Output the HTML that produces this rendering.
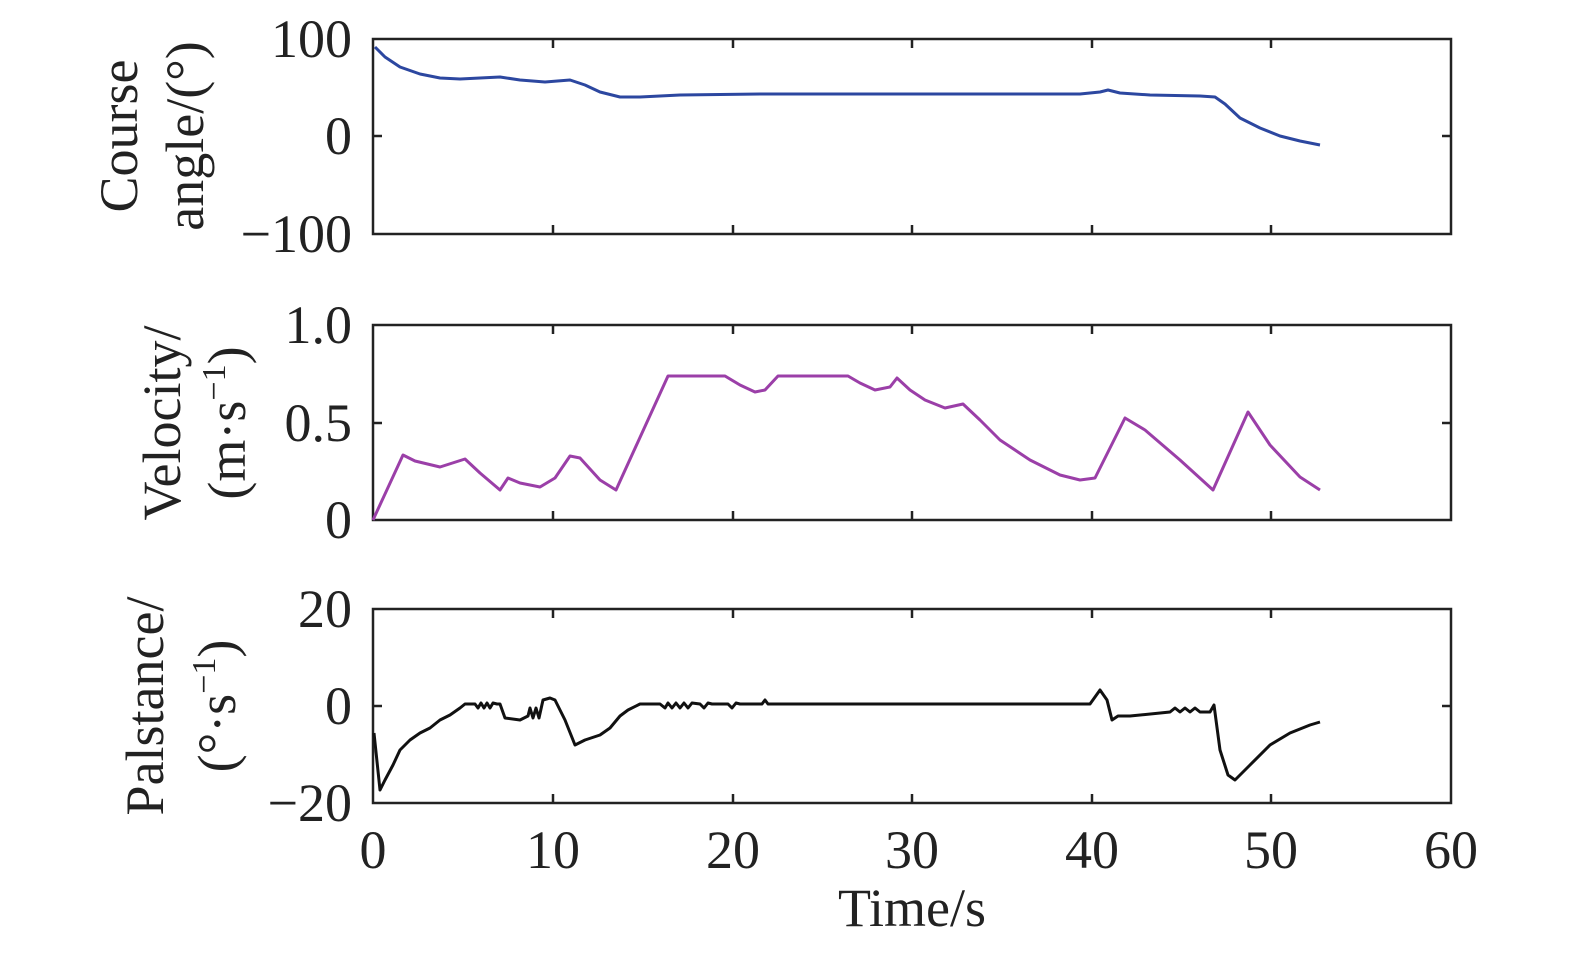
<!DOCTYPE html>
<html><head><meta charset="utf-8"><style>
html,body{margin:0;padding:0;background:#fff;}
svg text{font-family:"Liberation Serif",serif;fill:#222;}
</style></head><body>
<svg width="1575" height="955" viewBox="0 0 1575 955" xmlns="http://www.w3.org/2000/svg">
<g fill="none" stroke="#222" stroke-width="2.5">
<rect x="373" y="39" width="1078" height="195"/>
<rect x="373" y="325" width="1078" height="195"/>
<rect x="373" y="609" width="1078" height="194"/>
<path d="M553 39v9M733 39v9M912 39v9M1092 39v9M1271 39v9M553 234v-9M733 234v-9M912 234v-9M1092 234v-9M1271 234v-9M373 136h9M1451 136h-9
M553 325v9M733 325v9M912 325v9M1092 325v9M1271 325v9M553 520v-9M733 520v-9M912 520v-9M1092 520v-9M1271 520v-9M373 423h9M1451 423h-9
M553 609v9M733 609v9M912 609v9M1092 609v9M1271 609v9M553 803v-9M733 803v-9M912 803v-9M1092 803v-9M1271 803v-9M373 706h9M1451 706h-9"/>
</g>
<polyline fill="none" stroke="#2c47a0" stroke-width="3" stroke-linejoin="round" points="375,47 385,57 400,67 420,74 440,78 460,79 500,77 520,80 545,82 570,80 585,85 600,92 620,97 640,97 680,95 760,94 1080,94 1100,92 1108,90 1120,93 1150,95 1200,96 1215,97 1225,104 1240,118 1260,128 1280,136 1300,141 1320,145"/>
<polyline fill="none" stroke="#9b3fa8" stroke-width="3" stroke-linejoin="round" points="373,520 403,455 415,461 440,467 465,459 480,473 500,490 508,478 520,483 540,487 555,478 570,456 580,458 600,480 616,490 668,376 725,376 740,385 755,392 765,390 778,376 848,376 860,383 875,390 890,387 897,378 910,390 925,400 945,408 963,404 980,420 1000,440 1030,460 1060,475 1080,480 1095,478 1125,418 1145,430 1180,460 1213,490 1248,412 1270,445 1300,477 1320,490"/>
<polyline fill="none" stroke="#111" stroke-width="3" stroke-linejoin="round" points="374,733 380,790 385,780 393,765 400,750 410,740 420,733 430,728 440,720 450,715 460,708 465,704 475,704 478,708 481,703 484,708 487,703 490,708 493,703 497,704 500,704 505,718 520,720 528,716 530,708 533,718 536,708 539,718 543,700 550,698 555,700 565,720 575,745 585,740 600,735 610,728 620,716 628,710 640,704 660,704 665,708 668,703 672,708 676,703 680,708 684,703 688,708 692,703 700,704 704,708 708,703 712,704 728,704 732,708 736,703 740,704 762,704 765,700 768,704 1090,704 1100,690 1107,700 1112,720 1118,716 1130,716 1170,712 1175,708 1180,712 1185,708 1190,712 1195,708 1200,712 1210,712 1214,705 1220,750 1228,775 1235,780 1250,765 1270,745 1290,733 1310,725 1320,722"/>
<g font-size="54" text-anchor="end">
<text x="352" y="57">100</text><text x="352" y="154">0</text><text x="352" y="252">−100</text>
<text x="352" y="343">1.0</text><text x="352" y="441">0.5</text><text x="352" y="538">0</text>
<text x="352" y="627">20</text><text x="352" y="724">0</text><text x="352" y="821">−20</text>
</g>
<g font-size="54" text-anchor="middle">
<text x="373" y="868">0</text><text x="553" y="868">10</text><text x="733" y="868">20</text><text x="912" y="868">30</text><text x="1092" y="868">40</text><text x="1271" y="868">50</text><text x="1451" y="868">60</text>
<text x="912" y="926">Time/s</text>
</g>
<g font-size="54" text-anchor="middle">
<text transform="translate(137,136) rotate(-90)">Course</text>
<text transform="translate(203,136) rotate(-90)">angle/(°)</text>
<text transform="translate(180,423) rotate(-90)">Velocity/</text>
<text transform="translate(245,423) rotate(-90)">(m·s<tspan font-size="34" dy="-20">−1</tspan><tspan dy="20">)</tspan></text>
<text transform="translate(163,706) rotate(-90)">Palstance/</text>
<text transform="translate(235,706) rotate(-90)">(°·s<tspan font-size="34" dy="-20">−1</tspan><tspan dy="20">)</tspan></text>
</g>
</svg>
</body></html>
